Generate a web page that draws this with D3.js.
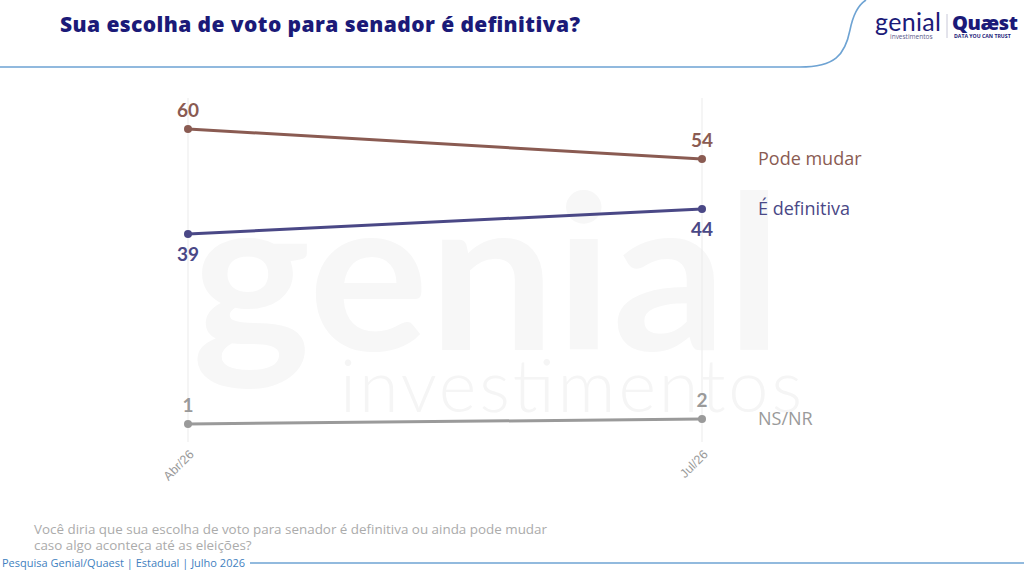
<!DOCTYPE html>
<html>
<head>
<meta charset="utf-8">
<script src="https://cdn.jsdelivr.net/npm/d3@7"></script>
<style>
  body { margin: 0; background: #fff; }
  svg { display: block; font-family: "Open Sans", Lato, sans-serif; }
</style>
</head>
<body>
<svg id="chart" width="1024" height="572"></svg>
<script>
var periods = ["Abr/26", "Jul/26"];
var seriesNames = ["Pode mudar", "É definitiva", "NS/NR"];
var podeMudar = [60, 54];
var eDefinitiva = [39, 44];
var nsnr = [1, 2];
var seriesColors = ["#8a5b52", "#4a4886", "#9a9a9a"];
var labelSide = ["above", "below", "above"]; // where value labels sit

var svg = d3.select("#chart");

// faint watermark
svg.append("text").attr("x", 192).attr("y", 350)
  .attr("font-family", "Lato, sans-serif").attr("font-size", 215).attr("font-weight", 700)
  .attr("fill", "#f7f7f7").attr("textLength", 590).attr("lengthAdjust", "spacingAndGlyphs")
  .text("genial");
svg.append("text").attr("x", 340).attr("y", 412)
  .attr("font-family", "Lato, sans-serif").attr("font-size", 72).attr("font-weight", 300)
  .attr("fill", "#f5f5f5").attr("textLength", 462).text("investimentos");

// header
svg.append("text").attr("x", 60).attr("y", 32)
  .attr("font-size", 21).attr("font-weight", 800).attr("fill", "#1b1a78")
  .attr("textLength", 520)
  .text("Sua escolha de voto para senador é definitiva?");

svg.append("path")
  .attr("d", "M0,67 L800,67 C835,67 845,55 850,30 C853,15 858,5 866,0")
  .attr("fill", "none").attr("stroke", "#6ea3d3").attr("stroke-width", 1.6);

// logo
var logo = svg.append("g");
logo.append("text").attr("x", 875).attr("y", 31)
  .attr("font-family", "Lato, sans-serif").attr("font-size", 25).attr("font-weight", 400)
  .attr("fill", "#1b1a78").attr("textLength", 66).text("genial");
logo.append("text").attr("x", 890).attr("y", 39)
  .attr("font-size", 6.5).attr("fill", "#5a5a8a").text("investimentos");
logo.append("line").attr("x1", 947).attr("x2", 947).attr("y1", 14).attr("y2", 38)
  .attr("stroke", "#c8c8d8").attr("stroke-width", 1);
logo.append("text").attr("x", 952).attr("y", 30)
  .attr("font-size", 20).attr("font-weight", 800).attr("fill", "#1b1a78")
  .attr("textLength", 66).text("Quæst");
logo.append("text").attr("x", 954).attr("y", 38)
  .attr("font-size", 5.2).attr("font-weight", 700).attr("fill", "#1b1a78")
  .text("DATA YOU CAN TRUST");

// scales
var x = d3.scalePoint().domain(periods).range([188, 702]);
var y = d3.scaleLinear().domain([0, 60]).range([429, 129]);

// vertical grid lines
svg.append("g").selectAll("line").data(periods).join("line")
  .attr("x1", function(d) { return x(d); }).attr("x2", function(d) { return x(d); })
  .attr("y1", 98).attr("y2", 442)
  .attr("stroke", "#ebebeb").attr("stroke-width", 1);

// x axis labels
var xAxis = svg.append("g").attr("transform", "translate(3,452)")
  .call(d3.axisBottom(x).tickSize(0).tickPadding(0));
xAxis.select(".domain").remove();
xAxis.selectAll("text")
  .attr("font-size", 12.5).attr("fill", "#9a9a9a")
  .attr("text-anchor", "end").attr("dy", "0.35em")
  .attr("transform", "rotate(-45)");

var seriesData = [podeMudar, eDefinitiva, nsnr].map(function(vals, i) {
  return {
    name: seriesNames[i], color: seriesColors[i], side: labelSide[i],
    values: vals.map(function(v, j) { return { period: periods[j], value: v }; })
  };
});

var line = d3.line()
  .x(function(d) { return x(d.period); })
  .y(function(d) { return y(d.value); });

var groups = svg.append("g").selectAll("g").data(seriesData).join("g");

groups.append("path")
  .attr("d", function(d) { return line(d.values); })
  .attr("fill", "none")
  .attr("stroke", function(d) { return d.color; })
  .attr("stroke-width", 3);

groups.each(function(s) {
  var g = d3.select(this);
  g.selectAll("circle").data(s.values).join("circle")
    .attr("cx", function(d) { return x(d.period); })
    .attr("cy", function(d) { return y(d.value); })
    .attr("r", 4).attr("fill", s.color);
  g.selectAll("text.val").data(s.values).join("text")
    .attr("class", "val")
    .attr("x", function(d) { return x(d.period); })
    .attr("y", function(d) { return y(d.value) + (s.side == "above" ? -12 : 27); })
    .attr("text-anchor", "middle")
    .attr("font-family", "Lato, sans-serif")
    .attr("font-size", 19).attr("font-weight", 700)
    .attr("fill", s.color)
    .text(function(d) { return d.value; });
  // series name at the right
  var last = s.values[s.values.length - 1];
  g.append("text")
    .attr("x", 758).attr("y", y(last.value) + 6)
    .attr("font-size", 18).attr("fill", s.color)
    .text(s.name);
});

// footer
svg.append("text").attr("x", 34).attr("y", 534)
  .attr("font-size", 13.4).attr("fill", "#ababab")
  .attr("textLength", 513)
  .text("Você diria que sua escolha de voto para senador é definitiva ou ainda pode mudar");
svg.append("text").attr("x", 34).attr("y", 550)
  .attr("font-size", 13.4).attr("fill", "#ababab")
  .text("caso algo aconteça até as eleições?");
svg.append("text").attr("x", 2).attr("y", 567)
  .attr("font-size", 11).attr("fill", "#3f7fc0")
  .text("Pesquisa Genial/Quaest | Estadual | Julho 2026");
svg.append("line").attr("x1", 250).attr("x2", 1024).attr("y1", 563).attr("y2", 563)
  .attr("stroke", "#6ea3d3").attr("stroke-width", 1.6);
</script>
</body>
</html>
